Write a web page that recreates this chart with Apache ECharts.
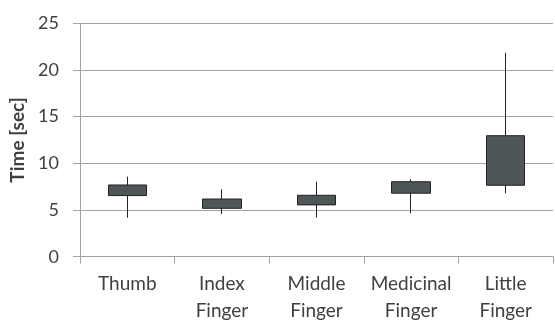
<!DOCTYPE html>
<html>
<head>
<meta charset="utf-8">
<script src="https://cdn.jsdelivr.net/npm/echarts@6/dist/echarts.min.js"></script>
<style>
  html, body { margin: 0; padding: 0; background: #fff; }
  #chart { width: 555px; height: 320px; }
</style>
</head>
<body>
<div id="chart"></div>
<script>
// Task completion time per finger (seconds)
var fingers = ['Thumb', 'Index\nFinger', 'Middle\nFinger', 'Medicinal\nFinger', 'Little\nFinger'];
var boxLow   = [6.55, 5.18, 5.55, 6.80, 7.65];   // lower edge of box
var boxHigh  = [7.68, 6.18, 6.58, 8.03, 12.96];  // upper edge of box
var minTime  = [4.18, 4.57, 4.18, 4.65, 6.79];   // lower whisker
var maxTime  = [8.57, 7.22, 8.03, 8.29, 21.85];  // upper whisker
var yTicks   = { min: 0, max: 25, step: 5 };

// candlestick item: [open, close, lowest, highest]
var boxData = fingers.map(function (f, i) {
  return [boxLow[i], boxHigh[i], minTime[i], maxTime[i]];
});

var textColor = '#404040';
var gridColor = '#a3a3a3';
var font = 'Lato, "Open Sans", sans-serif';

var chart = echarts.init(document.getElementById('chart'), null, { renderer: 'canvas' });
chart.setOption({
  animation: false,
  backgroundColor: '#ffffff',
  grid: {
    left: 80, right: 2, top: 23.3, bottom: 63.3,
    containLabel: false, outerBoundsMode: 'none'
  },
  xAxis: {
    type: 'category',
    data: fingers,
    boundaryGap: true,
    axisLine: { show: true, lineStyle: { color: gridColor, width: 1 } },
    axisTick: { show: true, length: 7, alignWithLabel: false, lineStyle: { color: gridColor } },
    axisLabel: {
      color: textColor, fontFamily: font, fontSize: 19, lineHeight: 27,
      margin: 14, interval: 0
    },
    splitLine: { show: false }
  },
  yAxis: {
    type: 'value',
    min: yTicks.min, max: yTicks.max, interval: yTicks.step,
    name: 'Time [sec]',
    nameLocation: 'middle',
    nameRotate: 90,
    nameGap: 43,
    nameTextStyle: { color: textColor, fontFamily: font, fontSize: 19, fontWeight: 'bold' },
    axisLine: { show: true, lineStyle: { color: gridColor, width: 1 } },
    axisTick: { show: true, length: 7, lineStyle: { color: gridColor } },
    axisLabel: { color: textColor, fontFamily: font, fontSize: 18, margin: 21 },
    splitLine: { show: true, lineStyle: { color: gridColor, width: 1 } }
  },
  series: [{
    type: 'candlestick',
    data: boxData,
    barWidth: 39,
    itemStyle: {
      color: '#4f5657', color0: '#4f5657',
      borderColor: '#222222', borderColor0: '#222222',
      borderWidth: 1
    }
  }]
});
</script>
</body>
</html>
